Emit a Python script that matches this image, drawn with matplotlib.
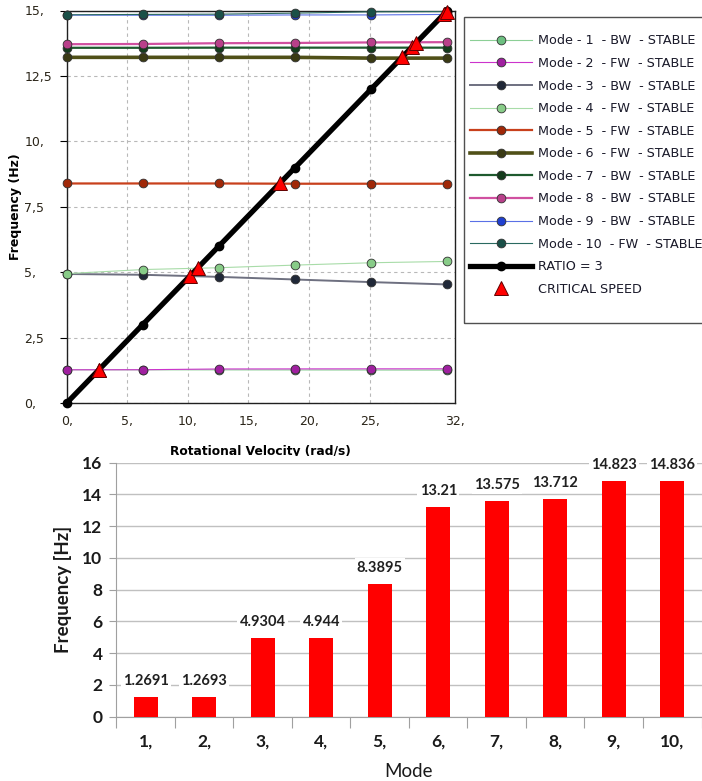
import matplotlib
matplotlib.use('Agg')
import matplotlib.pyplot as plt
import numpy as np
from matplotlib.patches import Rectangle

# ---------------- data (top chart: Campbell diagram) ----------------
speed = [0, 6.28, 12.57, 18.85, 25.13, 31.42]
mode1 = [1.269, 1.268, 1.266, 1.263, 1.260, 1.257]
mode2 = [1.269, 1.272, 1.300, 1.303, 1.305, 1.306]
mode3 = [4.930, 4.90, 4.82, 4.72, 4.62, 4.53]
mode4 = [4.944, 5.10, 5.17, 5.27, 5.36, 5.41]
mode5 = [8.3895, 8.39, 8.39, 8.38, 8.38, 8.38]
mode6 = [13.21, 13.21, 13.21, 13.21, 13.18, 13.18]
mode7 = [13.575, 13.575, 13.58, 13.58, 13.58, 13.58]
mode8 = [13.712, 13.72, 13.75, 13.76, 13.78, 13.79]
mode9 = [14.823, 14.82, 14.82, 14.83, 14.83, 14.85]
mode10 = [14.836, 14.85, 14.86, 14.90, 14.95, 14.96]
ratio3 = [0, 3, 6, 9, 12, 15]
crit_speed = [2.7, 2.7, 10.2, 10.8, 17.6, 27.7, 28.5, 28.8, 31.1, 31.35]
crit_freq = [1.28, 1.28, 4.87, 5.15, 8.39, 13.21, 13.60, 13.75, 14.85, 14.95]

mode_labels = ["Mode - 1  - BW  - STABLE", "Mode - 2  - FW  - STABLE",
               "Mode - 3  - BW  - STABLE", "Mode - 4  - FW  - STABLE",
               "Mode - 5  - FW  - STABLE", "Mode - 6  - FW  - STABLE",
               "Mode - 7  - BW  - STABLE", "Mode - 8  - BW  - STABLE",
               "Mode - 9  - BW  - STABLE", "Mode - 10  - FW  - STABLE"]
ratio_label = "RATIO = 3"
crit_label = "CRITICAL SPEED"

x_ticks = [0, 5, 10, 15, 20, 25, 32]
x_ticklabels = ["0,", "5,", "10,", "15,", "20,", "25,", "32,"]
y_ticks = [0, 2.5, 5, 7.5, 10, 12.5, 15]
y_ticklabels = ["0,", "2,5", "5,", "7,5", "10,", "12,5", "15,"]

# ---------------- data (bottom chart) ----------------
bar_modes = ["1,", "2,", "3,", "4,", "5,", "6,", "7,", "8,", "9,", "10,"]
bar_freq = [1.2691, 1.2693, 4.9304, 4.944, 8.3895, 13.21, 13.575, 13.712, 14.823, 14.836]
bar_text = ["1.2691", "1.2693", "4.9304", "4.944", "8.3895", "13.21", "13.575",
            "13.712", "14.823", "14.836"]

# ---------------- styles ----------------
line_colors = ['#8ccf96', '#cc33cc', '#6e7080', '#a8dca8', '#c8401c',
               '#505018', '#1e5a2e', '#d050a0', '#5a70e6', '#2a6a60']
face_colors = ['#6cbf80', '#a020a0', '#202838', '#88cc88', '#a02808',
               '#3a3a14', '#143c1c', '#b8408a', '#2040d0', '#1a5048']
line_widths = [0.8, 0.8, 1.4, 0.8, 1.6, 2.6, 1.6, 1.6, 0.8, 0.8]

W, H = 702, 781
fig = plt.figure(figsize=(W / 100, H / 100), dpi=100)

def fx(px):
    return px / W

def fy(py):
    return 1 - py / H

# top axes
L, R, T, B = 66.7, 454.5, 10.5, 403.0
ax = fig.add_axes([fx(L), fy(B), fx(R - L), (B - T) / H])
ax.set_zorder(0)
modes = [mode1, mode2, mode3, mode4, mode5, mode6, mode7, mode8, mode9, mode10]
handles = []
for i, m in enumerate(modes):
    h, = ax.plot(speed, m, color=line_colors[i], lw=line_widths[i], marker='o',
                 ms=6.3, mfc=face_colors[i], mec='#303030', mew=0.6,
                 clip_on=False, zorder=3)
    handles.append(h)
hr, = ax.plot(speed, ratio3, color='black', lw=3.8, marker='o', ms=6,
              mfc='black', mec='black', clip_on=False, zorder=4)
hc, = ax.plot(crit_speed, crit_freq, ls='none', marker='^', ms=10,
              mfc='#ff0000', mec='#600000', mew=0.7, clip_on=False, zorder=5)

ax.set_xlim(0, 32)
ax.set_ylim(0, 15)
ax.set_xticks(x_ticks)
ax.set_xticklabels(x_ticklabels)
ax.set_yticks(y_ticks)
ax.set_yticklabels(y_ticklabels, ha='left')
ax.tick_params(axis='x', length=0, pad=9, labelsize=9, labelcolor='#2a2418')
ax.tick_params(axis='y', length=5, width=0.8, pad=25.5, labelsize=9,
               labelcolor='#2a2418')
ax.grid(True, ls=(0, (3, 3)), color='#b8b8b8', lw=0.8)
for s in ax.spines.values():
    s.set_color('#202020')
    s.set_linewidth(1.0)
ax.set_ylabel("Frequency (Hz)", fontsize=9, fontweight='bold')
ax.yaxis.set_label_coords((22 - L) / (R - L), 0.5)
ax.set_xlabel("Rotational Velocity (rad/s)", fontsize=8.8, fontweight='bold')
ax.xaxis.set_label_coords(0.5, (B - 445) / (B - T))

# legend
leg_box = Rectangle((fx(464), fy(323)), fx(300), (323 - 17) / H,
                    transform=fig.transFigure, fill=False, ec='#505050', lw=1.0,
                    zorder=6)
fig.patches.append(leg_box)
leg = fig.legend(handles + [hr, hc], mode_labels + [ratio_label, crit_label],
                 loc='upper left', bbox_to_anchor=(fx(466), fy(30.5)),
                 frameon=False, fontsize=9.2, handlelength=4.9,
                 handletextpad=0.45, labelspacing=0.75, borderpad=0.3,
                 borderaxespad=0)
for t in leg.get_texts():
    t.set_color('#1a1a2a')

# white cover (bottom picture overlaps the top chart's axis title)
cover = Rectangle((0, 0), 1, fy(455.5), transform=fig.transFigure,
                  fc='white', ec='none', zorder=0.5)
fig.patches.append(cover)

# bottom axes
L2, R2, T2, B2 = 116.4, 701.5, 462.7, 716.7
ax2 = fig.add_axes([fx(L2), fy(B2), fx(R2 - L2), (B2 - T2) / H])
ax2.set_zorder(1)
ax2.patch.set_alpha(0)
xpos = np.arange(len(bar_modes))
ax2.bar(xpos, bar_freq, width=0.41, color='#ff0000', zorder=3)
for xi, v, s in zip(xpos, bar_freq, bar_text):
    ax2.annotate(s, (xi, v), xytext=(0, 11.5), textcoords='offset points',
                 ha='center', va='center', fontsize=10.5, family='Lato',
                 fontweight='bold', color='#202020', zorder=4,
                 bbox=dict(boxstyle='square,pad=0.15', fc='white', ec='none'))
ax2.set_xlim(-0.5, len(bar_modes) - 0.5)
ax2.set_ylim(0, 16)
ax2.set_yticks(np.arange(0, 17, 2))
ax2.set_xticks(xpos)
ax2.set_xticklabels(bar_modes)
ax2.set_xticks(np.arange(-0.5, len(bar_modes), 1), minor=True)
ax2.tick_params(axis='x', which='major', length=0, pad=12, labelsize=12.5)
ax2.tick_params(axis='x', which='minor', length=8, color='#a0a0a0', width=0.8)
ax2.tick_params(axis='y', length=5, color='#a0a0a0', width=0.8, labelsize=12.5,
                pad=5)
for lab in ax2.get_xticklabels() + ax2.get_yticklabels():
    lab.set_family('Lato')
    lab.set_fontweight('bold')
    lab.set_color('#1a1a1a')
ax2.grid(True, axis='y', color='#c0c0c0', lw=1.0, zorder=0)
ax2.set_axisbelow(True)
ax2.spines['top'].set_visible(False)
ax2.spines['right'].set_visible(False)
ax2.spines['left'].set_color('#a0a0a0')
ax2.spines['bottom'].set_color('#a0a0a0')
ax2.set_ylabel("Frequency [Hz]", fontsize=13.5, family='Lato', fontweight='bold',
               color='#1a1a1a')
ax2.yaxis.set_label_coords((72 - L2) / (R2 - L2), 0.5)
ax2.set_xlabel("Mode", fontsize=13.5, family='Lato', color='#1a1a1a')
ax2.xaxis.set_label_coords(0.5, (B2 - 763) / (B2 - T2))

fig.savefig('out.png', dpi=100)
